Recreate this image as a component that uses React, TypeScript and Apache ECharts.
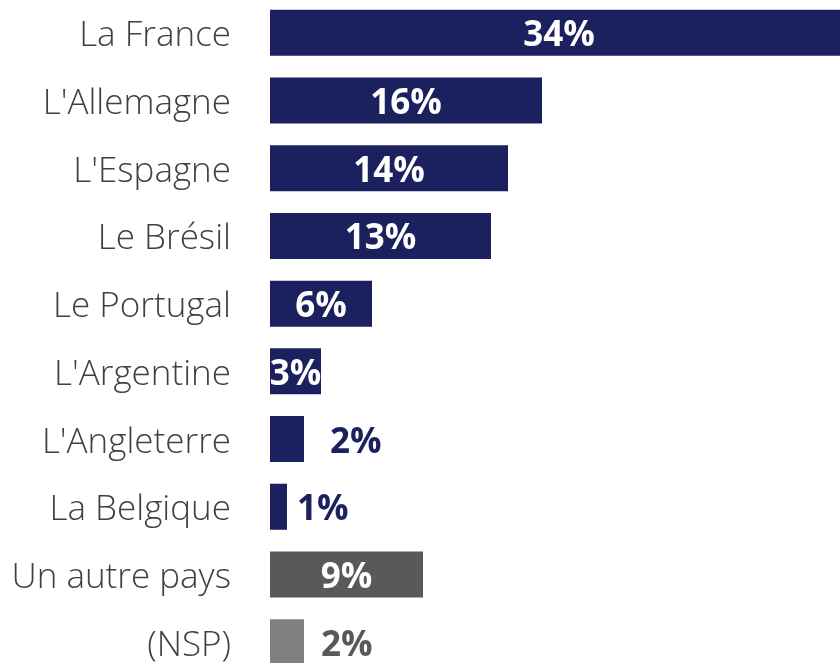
import React, { useEffect, useRef } from "react";
import * as echarts from "echarts";

const categories = [
  "La France",
  "L'Allemagne",
  "L'Espagne",
  "Le Brésil",
  "Le Portugal",
  "L'Argentine",
  "L'Angleterre",
  "La Belgique",
  "Un autre pays",
  "(NSP)",
];
const values = [34, 16, 14, 13, 6, 3, 2, 1, 9, 2];
const barColors = [
  "#1b205e", "#1b205e", "#1b205e", "#1b205e", "#1b205e",
  "#1b205e", "#1b205e", "#1b205e", "#595959", "#808080",
];
const labelInside = [true, true, true, true, true, true, false, false, true, false];
const outsideOffsets = [0, 0, 0, 0, 0, 0, 26, 10, 0, 17];
const outsideColors = ["", "", "", "", "", "", "#1b205e", "#1b205e", "", "#595959"];

export default function App() {
  const ref = useRef<HTMLDivElement>(null);
  useEffect(() => {
    if (!ref.current) return;
    const chart = echarts.init(ref.current, undefined, { renderer: "svg" });
    const data = values.map((v, i) => ({
      value: v,
      itemStyle: { color: barColors[i] },
      label: labelInside[i]
        ? { position: "inside", color: "#ffffff" }
        : {
            position: "right",
            distance: outsideOffsets[i],
            color: outsideColors[i],
          },
    }));
    chart.setOption({
      animation: false,
      grid: { left: 270, right: 0, top: 0, bottom: 0 },
      xAxis: {
        type: "value",
        min: 0,
        max: 34,
        show: false,
      },
      yAxis: {
        type: "category",
        data: categories,
        inverse: true,
        axisLine: { show: false },
        axisTick: { show: false },
        axisLabel: {
          margin: 39,
          fontSize: 35,
          fontFamily: "Open Sans",
          fontWeight: 300,
          color: "#404040",
        },
      },
      series: [
        {
          type: "bar",
          data,
          barCategoryGap: "32%",
          label: {
            show: true,
            formatter: "{c}%",
            fontSize: 35,
            fontWeight: "bold",
            fontFamily: "Open Sans",
          },
        },
      ],
    });
    return () => chart.dispose();
  }, []);
  return (
    <div style={{ position: "fixed", left: 0, top: 0, width: 840, height: 663, overflow: "hidden" }}>
      <div ref={ref} style={{ position: "absolute", left: 0, top: -1, width: 848, height: 677 }} />
    </div>
  );
}
